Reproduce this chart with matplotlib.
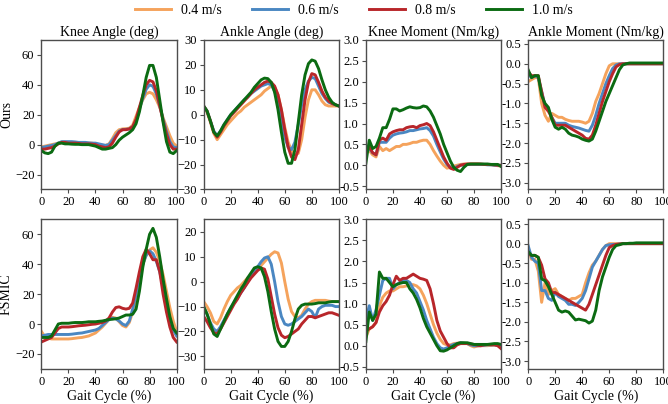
import numpy as np
import matplotlib.pyplot as plt

plt.rcParams['font.family'] = ['Liberation Serif', 'DejaVu Serif']
plt.rcParams['mathtext.fontset'] = 'stix'

# gait cycle sample points (%)
gait = np.arange(0, 100.1, 2.5)

speeds = ['0.4 m/s', '0.6 m/s', '0.8 m/s', '1.0 m/s']
colors = ['#f5a35c', '#4a87c2', '#b8262a', '#0b6b12']

titles = ['Knee Angle (deg)', 'Ankle Angle (deg)', 'Knee Moment (Nm/kg)', 'Ankle Moment (Nm/kg)']
rows = ['Ours', 'FSMIC']

# ---- Ours ----
ours_knee_ang = [
    [-1.5, -1, -0.5, 0, 0.5, 1, 1.5, 1.5, 1.5, 1.5, 1.2, 1, 1, 1, 1, 1, 0.5, 0, -0.5, -0.5, 0.5, 4, 8, 10, 10.5, 10.7, 11, 13, 19, 25, 30, 34, 35, 34, 30, 25, 18, 12, 6, 1, -1],
    [-2, -1.5, -1, -0.5, 0, 1, 2, 2, 2, 2, 1.8, 1.5, 1.5, 1.5, 1.2, 1, 1, 0.5, 0, -0.5, 0, 3, 6, 9, 10, 10.2, 10.5, 12, 16, 24, 31, 37, 40, 39, 34, 26, 17, 9, 2, -1.5, -2],
    [-3, -3, -2.5, -2, -1, 0.5, 1.5, 1.5, 1, 1, 1, 0.8, 0.5, 0.5, 0.5, 0.3, 0, -1, -1.5, -2, -1.5, 1, 5, 8.5, 10, 10, 10.5, 12, 17, 25, 33, 40, 43, 42, 36, 26, 16, 7, 0, -3, -3],
    [-4, -5.5, -6, -5, -1, 1, 1, 0.5, 0.5, 0.3, 0.2, 0.2, 0, 0, 0, -0.5, -1, -2, -3, -3, -2.5, -2, 0, 3, 5, 6.5, 8, 10, 14, 22, 33, 45, 53, 53, 45, 30, 15, 2, -5, -6, -4],
]
ours_ankle_ang = [
    [3.5, 1, -3, -7.5, -10, -8, -6, -4, -2.5, -1, 0.5, 1.5, 3, 4, 5, 6, 7, 8, 9.5, 10.5, 11.5, 11, 8, 2, -5, -11, -14.5, -16, -15.5, -10, -1, 6, 10, 10, 8, 5.5, 4, 3.5, 3.5, 3.5, 3.5],
    [3.5, 1.5, -2.5, -6.5, -8.5, -6.5, -4, -2, 0, 1.5, 3, 4.5, 6, 7, 8.5, 9.5, 10.5, 11.5, 12, 12.5, 12, 9.5, 5, -2, -9, -13, -14, -11, -4, 4, 10, 13.5, 15, 14.5, 11.5, 8.5, 6.5, 5, 4.5, 4, 3.5],
    [3.5, 1.5, -2.5, -7, -9, -7, -4.5, -2.5, -0.5, 1, 2.5, 4, 5.5, 7, 8.5, 10, 11, 12, 13, 13.5, 13, 11.5, 8, 2, -6, -13, -17, -18, -14, -4, 6, 13, 16.5, 16, 13, 9.5, 7, 5.5, 4.5, 4, 3.5],
    [3.5, 1.5, -2.5, -7, -8.5, -6.5, -4, -2, 0, 1.5, 3, 4.5, 6, 7.5, 9, 11, 12.5, 14, 14.7, 14.5, 13, 9, 2, -7, -15, -19.5, -19.5, -14, -3, 8, 16, 20.5, 22, 21.5, 18.5, 14, 10, 7, 5, 4, 3.5],
]
ours_knee_mom = [
    [0.45, 0.35, 0.25, 0.2, 0.45, 0.35, 0.4, 0.35, 0.4, 0.45, 0.45, 0.5, 0.5, 0.52, 0.55, 0.55, 0.58, 0.6, 0.6, 0.5, 0.35, 0.22, 0.1, 0.0, -0.07, -0.05, -0.02, 0.0, 0.02, 0.03, 0.03, 0.03, 0.03, 0.03, 0.02, 0.02, 0.02, 0.01, 0.0, -0.01, -0.02],
    [0.3, 0.4, 0.3, 0.25, 0.55, 0.55, 0.55, 0.65, 0.72, 0.75, 0.77, 0.78, 0.8, 0.83, 0.83, 0.85, 0.87, 0.88, 0.9, 0.83, 0.7, 0.5, 0.32, 0.15, 0.02, -0.05, -0.08, -0.03, 0.0, 0.01, 0.02, 0.02, 0.02, 0.02, 0.02, 0.02, 0.01, 0.01, 0.0, 0.0, 0.0],
    [0.3, 0.45, 0.3, 0.25, 0.6, 0.65, 0.6, 0.75, 0.8, 0.83, 0.85, 0.85, 0.9, 0.92, 0.93, 0.9, 0.95, 0.97, 1.0, 0.95, 0.8, 0.6, 0.4, 0.2, 0.05, -0.07, -0.1, -0.05, 0.0, 0.02, 0.03, 0.03, 0.03, 0.03, 0.03, 0.02, 0.02, 0.02, 0.01, 0.0, 0.0],
    [0.05, 0.6, 0.4, 0.45, 0.65, 0.9, 0.9, 1.1, 1.35, 1.35, 1.3, 1.33, 1.37, 1.4, 1.38, 1.37, 1.38, 1.42, 1.4, 1.3, 1.15, 0.95, 0.75, 0.5, 0.3, 0.1, -0.05, -0.12, -0.15, -0.05, 0.02, 0.03, 0.03, 0.03, 0.03, 0.03, 0.03, 0.02, 0.02, 0.02, -0.03],
]
ours_ankle_mom = [
    [-0.45, -0.4, -0.35, -0.35, -1.0, -1.3, -1.45, -1.25, -1.3, -1.35, -1.35, -1.4, -1.43, -1.45, -1.45, -1.45, -1.47, -1.5, -1.45, -1.25, -0.95, -0.75, -0.5, -0.25, -0.05, 0.0, 0.0, 0.0, 0.0, 0.0, 0.0, 0.0, 0.0, 0.0, 0.0, 0.0, 0.0, 0.0, 0.0, 0.0, 0.0],
    [-0.25, -0.35, -0.3, -0.35, -0.7, -1.05, -1.15, -1.35, -1.5, -1.5, -1.5, -1.5, -1.55, -1.58, -1.6, -1.62, -1.65, -1.68, -1.7, -1.55, -1.3, -1.0, -0.75, -0.5, -0.3, -0.12, -0.03, 0.0, 0.0, 0.0, 0.0, 0.0, 0.0, 0.0, 0.0, 0.0, 0.0, 0.0, 0.0, 0.0, 0.0],
    [-0.2, -0.3, -0.3, -0.3, -0.7, -1.1, -1.2, -1.35, -1.55, -1.55, -1.55, -1.55, -1.6, -1.65, -1.7, -1.75, -1.8, -1.88, -1.9, -1.8, -1.55, -1.25, -0.95, -0.7, -0.45, -0.25, -0.08, -0.02, 0.0, 0.0, 0.0, 0.0, 0.0, 0.0, 0.0, 0.0, 0.0, 0.0, 0.0, 0.0, 0.0],
    [-0.15, -0.35, -0.3, -0.3, -0.8, -1.0, -1.1, -1.4, -1.6, -1.65, -1.6, -1.65, -1.75, -1.8, -1.82, -1.85, -1.9, -1.93, -1.95, -1.9, -1.7, -1.45, -1.2, -0.95, -0.75, -0.55, -0.35, -0.15, -0.03, 0.0, 0.02, 0.02, 0.02, 0.02, 0.02, 0.02, 0.02, 0.02, 0.02, 0.02, 0.02],
]

# ---- FSMIC ----
fsmic_knee_ang = [
    [-5, -8.5, -9.5, -10, -10, -10, -10, -10, -10, -9.8, -9.5, -9.2, -9, -8.5, -8, -7, -6, -4, -2, 0.5, 3, 4.5, 4, 1.5, -1, -2, 1, 8, 18, 30, 40, 46, 49.5, 51, 48, 42, 33, 22, 11, 2, -5],
    [-8, -7.5, -7, -7, -7, -7, -7, -7, -7, -6.8, -6.5, -6.2, -6, -5.5, -5, -4.5, -4, -3, -1, 1, 3, 4, 3.5, 2, 0, -1, 2, 10, 20, 32, 40, 46, 49, 47, 42, 35, 25, 13, 3, -4, -8],
    [-12, -11, -10, -9, -6, -3, -2, -2, -2, -1.8, -1.5, -1.2, -1, -0.8, -0.5, -0.2, 0, 0.5, 1, 2, 4, 8, 11, 11.5, 10.5, 10, 10.5, 14, 24, 35, 45, 50, 47, 43, 43, 35, 20, 8, -2, -9, -12],
    [-9, -9, -9, -8, -4, 0, 0.5, 0.5, 0.5, 0.8, 1, 1, 1, 1.2, 1.5, 1.5, 1.5, 1.8, 2, 2.5, 3, 3.2, 3.5, 4, 5, 6, 6, 6.5, 10, 22, 38, 50, 60, 64, 58, 45, 30, 17, 5, -3, -6],
]
fsmic_ankle_ang = [
    [-8, -10, -12.5, -16, -17, -14.5, -11, -8, -5.5, -4, -2.5, -1.5, 0, 1.5, 2.5, 3.5, 5, 6.5, 8, 9.5, 11, 12, 11.5, 7.5, 0, -7, -12, -14, -14.5, -13.5, -11, -9, -8, -7.5, -7.5, -7.5, -7.5, -7.8, -8, -8, -8],
    [-10, -13, -16.5, -19, -20, -18, -15.5, -13, -10.5, -8.5, -6.5, -4.5, -2.5, 0, 2, 4, 6, 8, 9.5, 10, 7, 0, -8, -14, -17, -17.5, -17, -16, -15, -14, -12.5, -11, -12, -14.5, -11, -10, -9.5, -9.5, -9.5, -10, -10],
    [-14, -16, -18.5, -20.5, -21, -19, -16.5, -14, -11.5, -9, -7, -4.5, -2.5, -0.5, 1.5, 3, 4.5, 5.5, 5, 1, -6, -13, -18.5, -21.5, -22.5, -22, -21, -20, -19, -17, -15.5, -14, -14, -14.5, -14, -13.5, -13, -12.5, -12.5, -13, -13.5],
    [-10, -13, -17, -21, -22, -19, -16, -13, -10.5, -8, -5.5, -3, -1, 1.5, 3.5, 5.5, 6, 5.5, 2, -4, -12, -19, -24, -26, -26, -24, -20, -15, -11, -9.5, -9, -9, -9, -8.8, -8.5, -8.5, -8.5, -8.2, -8, -8, -8],
]
fsmic_knee_mom = [
    [0.2, 0.4, 0.45, 0.55, 0.95, 1.15, 1.25, 1.3, 1.3, 1.35, 1.4, 1.4, 1.42, 1.45, 1.45, 1.42, 1.35, 1.2, 1.0, 0.75, 0.5, 0.3, 0.15, 0.05, 0.02, 0.02, 0.05, 0.06, 0.07, 0.06, 0.05, 0.0, -0.03, -0.01, 0.0, 0.0, 0.0, 0.01, 0.02, 0.0, -0.03],
    [0.6, 0.95, 0.6, 0.85, 1.2, 1.55, 1.6, 1.6, 1.35, 1.45, 1.5, 1.55, 1.55, 1.5, 1.35, 1.25, 1.05, 0.85, 0.6, 0.4, 0.2, 0.05, -0.05, -0.08, -0.05, 0.0, 0.03, 0.05, 0.07, 0.06, 0.05, 0.02, 0.0, 0.0, 0.0, 0.01, 0.02, 0.02, 0.02, 0.01, 0.0],
    [0.35, 0.4, 0.45, 0.55, 0.8, 0.95, 1.05, 1.2, 1.45, 1.65, 1.55, 1.6, 1.6, 1.65, 1.7, 1.65, 1.6, 1.58, 1.55, 1.35, 1.0, 0.6, 0.35, 0.2, 0.05, -0.05, -0.05, 0.02, 0.05, 0.05, 0.05, 0.04, 0.03, 0.01, 0.0, 0.02, 0.03, 0.02, 0.02, 0.0, -0.07],
    [0.1, 0.8, 0.6, 0.75, 1.75, 1.6, 1.6, 1.5, 1.4, 1.45, 1.48, 1.5, 1.5, 1.35, 1.25, 1.1, 0.9, 0.65, 0.45, 0.3, 0.15, 0.0, -0.12, -0.13, -0.1, -0.05, 0.0, 0.05, 0.07, 0.07, 0.07, 0.05, 0.03, 0.03, 0.03, 0.03, 0.03, 0.04, 0.05, 0.05, 0.03],
]
fsmic_ankle_mom = [
    [-0.1, -0.4, -0.4, -0.7, -1.5, -1.0, -1.3, -1.2, -1.15, -1.3, -1.35, -1.4, -1.45, -1.4, -1.4, -1.35, -1.3, -1.0, -0.75, -0.55, -0.45, -0.3, -0.15, -0.05, 0.0, 0.0, 0.0, 0.0, 0.0, 0.0, 0.0, 0.0, 0.0, 0.0, 0.0, 0.0, 0.0, 0.0, 0.0, 0.0, 0.0],
    [-0.05, -0.35, -0.45, -0.5, -1.2, -1.2, -1.4, -1.45, -1.25, -1.35, -1.4, -1.45, -1.55, -1.55, -1.58, -1.5, -1.4, -1.2, -0.9, -0.6, -0.45, -0.3, -0.15, -0.05, -0.03, -0.02, -0.02, -0.01, 0.0, 0.0, 0.0, 0.0, 0.0, 0.0, 0.0, 0.0, 0.0, 0.0, 0.0, 0.0, 0.0],
    [-0.25, -0.3, -0.3, -0.35, -0.55, -0.9, -1.0, -1.25, -1.25, -1.3, -1.35, -1.4, -1.45, -1.5, -1.55, -1.6, -1.65, -1.7, -1.55, -1.3, -1.05, -0.8, -0.55, -0.3, -0.1, -0.05, -0.02, -0.01, 0.0, 0.0, 0.0, 0.0, 0.0, 0.0, 0.0, 0.0, 0.0, 0.0, 0.0, 0.0, 0.0],
    [-0.2, -0.3, -0.3, -0.35, -0.9, -0.95, -1.1, -1.3, -1.5, -1.7, -1.75, -1.72, -1.75, -1.85, -1.95, -1.93, -1.95, -1.97, -2.03, -1.98, -1.7, -1.2, -0.85, -0.6, -0.35, -0.15, -0.05, -0.03, 0.0, 0.0, 0.01, 0.01, 0.02, 0.02, 0.02, 0.02, 0.02, 0.02, 0.02, 0.02, 0.02],
]

data = [
    [ours_knee_ang, ours_ankle_ang, ours_knee_mom, ours_ankle_mom],
    [fsmic_knee_ang, fsmic_ankle_ang, fsmic_knee_mom, fsmic_ankle_mom],
]

ylims = [
    [(-30, 70), (-30, 30), (-0.58, 3.0), (-3.17, 0.6)],
    [(-30, 70), (-35, 25), (-0.55, 3.0), (-3.2, 0.62)],
]
yticks = [
    [np.arange(-20, 61, 20), np.arange(-30, 31, 10), np.arange(-0.5, 3.01, 0.5), np.arange(-3.0, 0.51, 0.5)],
    [np.arange(-20, 61, 20), np.arange(-30, 21, 10), np.arange(-0.5, 3.01, 0.5), np.arange(-3.0, 0.51, 0.5)],
]

fig, axes = plt.subplots(2, 4, figsize=(6.68, 4.04), dpi=100)
fig.subplots_adjust(left=0.062, right=0.993, top=0.901, bottom=0.087, wspace=0.2, hspace=0.2)

for r in range(2):
    for c in range(4):
        ax = axes[r, c]
        for s in range(4):
            ax.plot(gait, data[r][c][s], color=colors[s], lw=2.1, label=speeds[s])
        ax.set_xlim(0, 100)
        ax.set_ylim(*ylims[r][c])
        ax.set_xticks(np.arange(0, 101, 20))
        ax.set_yticks(yticks[r][c])
        if c >= 2:
            ax.set_yticklabels(['%.1f' % v for v in yticks[r][c]])
        ax.tick_params(labelsize=9, length=3, width=0.8, color='0.3', pad=2)
        for sp in ax.spines.values():
            sp.set_color('0.3')
            sp.set_linewidth(1.0)
        if r == 0:
            ax.set_title(titles[c], fontsize=10, pad=3)
        else:
            ax.set_xlabel('Gait Cycle (%)', fontsize=10, labelpad=1)
        if c == 0:
            ax.set_ylabel(rows[r], fontsize=10)
            ax.yaxis.set_label_coords(-0.21, 0.5)

handles, labels = axes[0, 0].get_legend_handles_labels()
fig.legend(handles, labels, loc='center', bbox_to_anchor=(0.53, 0.975), ncol=4,
           frameon=False, fontsize=10, handlelength=2.6, columnspacing=2.2, handletextpad=0.7)

fig.savefig('out.png', dpi=100)
